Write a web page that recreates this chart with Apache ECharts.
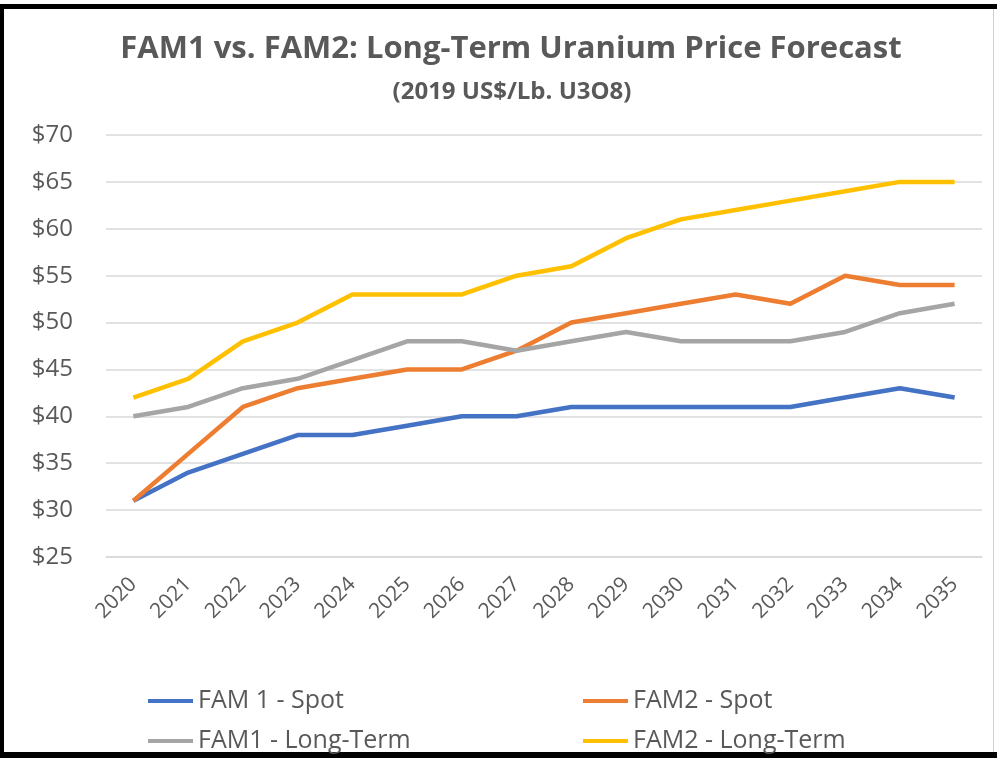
<!DOCTYPE html>
<html>
<head>
<meta charset="utf-8">
<title>FAM1 vs. FAM2</title>
<script src="https://cdn.jsdelivr.net/npm/echarts@6/dist/echarts.min.js"></script>
<style>
  html, body { margin: 0; padding: 0; background: #fff; }
  #chart { width: 997px; height: 760px; }
</style>
</head>
<body>
<div id="chart"></div>
<script>
var years = ['2020', '2021', '2022', '2023', '2024', '2025', '2026', '2027',
             '2028', '2029', '2030', '2031', '2032', '2033', '2034', '2035'];

var fam1Spot     = [31, 34, 36, 38, 38, 39, 40, 40, 41, 41, 41, 41, 41, 42, 43, 42];
var fam2Spot     = [31, 36, 41, 43, 44, 45, 45, 47, 50, 51, 52, 53, 52, 55, 54, 54];
var fam1LongTerm = [40, 41, 43, 44, 46, 48, 48, 47, 48, 49, 48, 48, 48, 49, 51, 52];
var fam2LongTerm = [42, 44, 48, 50, 53, 53, 53, 55, 56, 59, 61, 62, 63, 64, 65, 65];

var seriesNames = ['FAM 1 - Spot', 'FAM2 - Spot', 'FAM1 - Long-Term', 'FAM2 - Long-Term'];

var fontFam = "'Open Sans', 'Noto Sans', sans-serif";
var textGray = '#595959';

var chart = echarts.init(document.getElementById('chart'));

function mkSeries(name, data, color) {
    return {
        name: name,
        type: 'line',
        data: data,
        symbol: 'none',
        lineStyle: { width: 4.5, color: color },
        itemStyle: { color: color }
    };
}

// one legend per item, laid out as a 2x2 block like the original
function mkLegend(name, left, top) {
    return {
        data: [name],
        left: left,
        top: top,
        padding: 0,
        icon: 'rect',
        itemWidth: 45,
        itemHeight: 4,
        textStyle: { fontFamily: fontFam, fontSize: 25, lineHeight: 28, color: textGray }
    };
}

var option = {
    animation: false,
    backgroundColor: '#fff',
    title: [
        {
            text: 'FAM1 vs. FAM2: Long-Term Uranium Price Forecast',
            left: 506, top: 29, textAlign: 'center',
            textStyle: { fontFamily: fontFam, fontSize: 31, fontWeight: 'bold', color: textGray }
        },
        {
            text: '(2019 US$/Lb. U3O8)',
            left: 507, top: 75, textAlign: 'center',
            textStyle: { fontFamily: fontFam, fontSize: 24, fontWeight: 'bold', color: textGray }
        }
    ],
    legend: [
        mkLegend(seriesNames[0], 148, 687),
        mkLegend(seriesNames[2], 148, 727),
        mkLegend(seriesNames[1], 583, 687),
        mkLegend(seriesNames[3], 583, 727)
    ],
    grid: { left: 106, right: 15, top: 135, bottom: 203, containLabel: false },
    xAxis: {
        type: 'category',
        data: years,
        boundaryGap: true,
        axisLine: { show: true, lineStyle: { color: '#D9D9D9', width: 1.5 } },
        axisTick: { show: false },
        axisLabel: {
            rotate: 45, margin: 24,
            fontFamily: fontFam, fontSize: 21, color: textGray
        }
    },
    yAxis: {
        type: 'value',
        min: 25, max: 70, interval: 5,
        axisLine: { show: false },
        axisTick: { show: false },
        splitLine: { lineStyle: { color: '#D9D9D9', width: 1.5 } },
        axisLabel: {
            margin: 33,
            fontFamily: fontFam, fontSize: 24, color: textGray,
            formatter: function (v) { return '$' + v; }
        }
    },
    // picture frame: thick black on top, left and bottom, faint line on the right
    graphic: [
        { type: 'rect', shape: { x: 0, y: 4, width: 997, height: 5 }, style: { fill: '#000' } },
        { type: 'rect', shape: { x: 0, y: 4, width: 4, height: 754 }, style: { fill: '#000' } },
        { type: 'rect', shape: { x: 0, y: 752, width: 997, height: 6 }, style: { fill: '#000' } },
        { type: 'rect', shape: { x: 993, y: 9, width: 1, height: 743 }, style: { fill: '#d0d0d0' } }
    ],
    series: [
        mkSeries(seriesNames[0], fam1Spot, '#4472C4'),
        mkSeries(seriesNames[1], fam2Spot, '#ED7D31'),
        mkSeries(seriesNames[2], fam1LongTerm, '#A5A5A5'),
        mkSeries(seriesNames[3], fam2LongTerm, '#FFC000')
    ]
};

chart.setOption(option);
</script>
</body>
</html>
